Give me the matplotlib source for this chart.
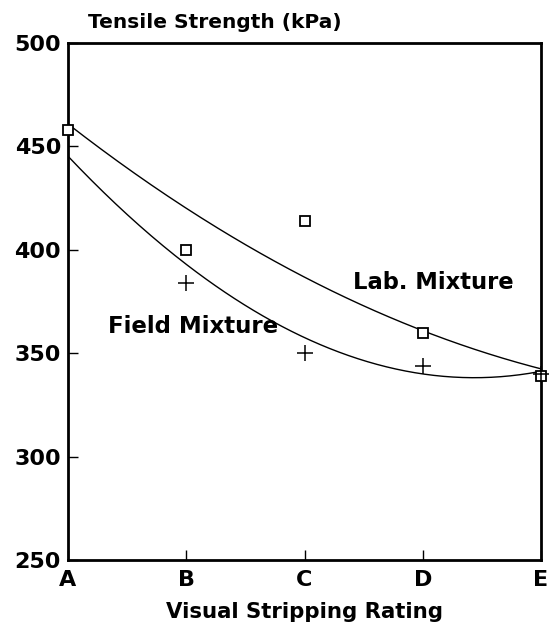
import numpy as np
import matplotlib.pyplot as plt

ratings = ['A', 'B', 'C', 'D', 'E']
lab_points = [458, 400, 414, 360, 339]
field_points = [384, 350, 344, 340]
field_ratings = ['B', 'C', 'D', 'E']
# values of the drawn curves at each rating
lab_curve = [460, 422, 386, 360, 343]
field_curve = [445, 394, 356, 341, 341]

plt.rcParams['font.family'] = ['DejaVu Sans']
plt.rcParams['font.weight'] = 'bold'

fig = plt.figure(figsize=(5.51, 6.32), dpi=100)
ax = fig.add_axes([0.1234, 0.1139, 0.8585, 0.8181])

xi = np.arange(len(ratings))
xs = np.linspace(0, len(ratings) - 1, 200)
ax.plot(xs, np.polyval(np.polyfit(xi, lab_curve, 2), xs), color='black', lw=1.0)
ax.plot(xs, np.polyval(np.polyfit(xi, field_curve, 3), xs), color='black', lw=1.0)

ax.plot(xi, lab_points, linestyle='none', marker='s', ms=7, mfc='white',
        mec='black', mew=1.3, clip_on=False, zorder=5)
fx = [ratings.index(r) for r in field_ratings]
ax.plot(fx, field_points, linestyle='none', marker='+', ms=12, color='black',
        mew=1.1, clip_on=False, zorder=5)

ax.set_xlim(0, 4)
ax.set_ylim(250, 500)
ax.set_xticks(xi)
ax.set_xticklabels(ratings)
ax.set_yticks([250, 300, 350, 400, 450, 500])
ax.tick_params(direction='in', length=7, width=1, labelsize=16, pad=5)
ax.tick_params(axis='x', labelsize=16, pad=7)
for s in ax.spines.values():
    s.set_linewidth(2)

ax.text(0.043, 1.022, 'Tensile Strength (kPa)', transform=ax.transAxes,
        fontsize=14.5, fontweight='bold', va='bottom', ha='left')
ax.set_xlabel('Visual Stripping Rating', fontsize=15.3, fontweight='bold', labelpad=9)
ax.text(2.41, 384, 'Lab. Mixture', fontsize=16.3, fontweight='bold', va='center')
ax.text(0.338, 363, 'Field Mixture', fontsize=16.5, fontweight='bold', va='center')

fig.savefig('out.png', dpi=100)
